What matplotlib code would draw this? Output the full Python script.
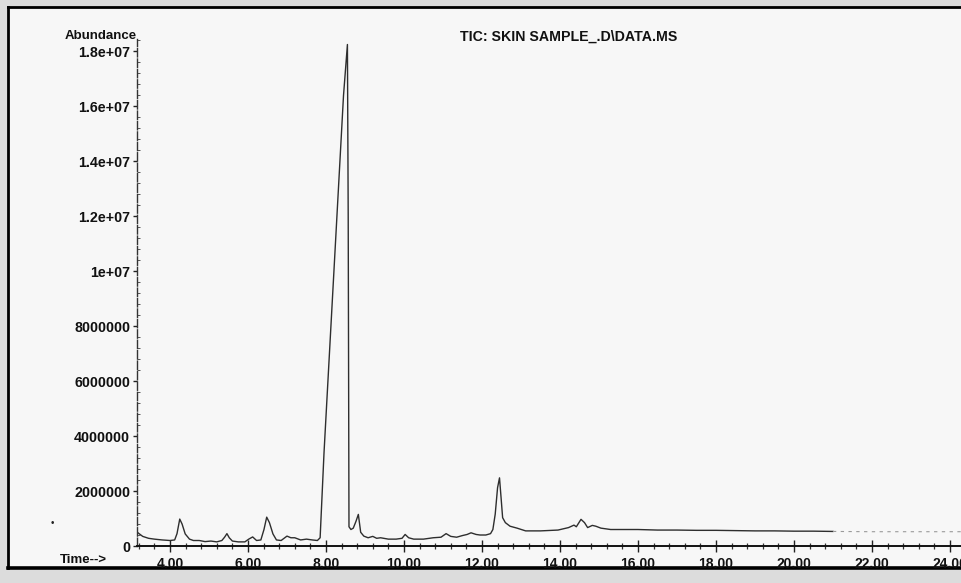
import matplotlib
matplotlib.use("Agg")
import matplotlib.pyplot as plt
from matplotlib.ticker import FixedLocator, MultipleLocator
from matplotlib.lines import Line2D
from matplotlib.patches import Rectangle

# ---- data (retention time in min, abundance in counts) ----
time_min = [3.16, 3.3, 3.45, 3.6, 3.8, 4.0, 4.12, 4.18, 4.25, 4.31, 4.39, 4.5, 4.6,
            4.75, 4.9, 5.05, 5.2, 5.33, 5.4, 5.46, 5.52, 5.6, 5.75, 5.92, 6.02,
            6.12, 6.22, 6.33, 6.41, 6.48, 6.55, 6.64, 6.73, 6.85, 7.0, 7.1, 7.2,
            7.35, 7.5, 7.65, 7.78, 7.85, 7.95, 8.05, 8.15, 8.25, 8.35, 8.45, 8.55,
            8.57, 8.59, 8.64, 8.7, 8.77, 8.83, 8.89, 8.97, 9.08, 9.2, 9.3, 9.4,
            9.6, 9.8, 9.95, 10.03, 10.12, 10.25, 10.5, 10.75, 10.95, 11.08, 11.2,
            11.35, 11.5, 11.62, 11.72, 11.85, 11.95, 12.1, 12.22, 12.28, 12.34,
            12.4, 12.45, 12.49, 12.53, 12.6, 12.72, 12.9, 13.12, 13.5, 13.95,
            14.22, 14.36, 14.42, 14.54, 14.63, 14.71, 14.83, 14.92, 15.05, 15.3,
            15.6, 16.0, 16.5, 17.0, 17.5, 18.0, 18.5, 19.0, 19.5, 20.0, 20.5, 21.0]
abundance_m = [0.5, 0.35, 0.28, 0.25, 0.22, 0.2, 0.22, 0.45, 0.98, 0.8, 0.44, 0.25, 0.2,
               0.2, 0.16, 0.18, 0.15, 0.2, 0.32, 0.45, 0.3, 0.18, 0.15, 0.15, 0.25,
               0.33, 0.2, 0.22, 0.6, 1.05, 0.85, 0.44, 0.22, 0.2, 0.36, 0.3, 0.3,
               0.22, 0.25, 0.22, 0.2, 0.3, 3.4, 6.0, 8.6, 11.2, 13.8, 16.4, 18.25,
               12.0, 0.7, 0.6, 0.65, 0.9, 1.15, 0.5, 0.36, 0.3, 0.35, 0.28, 0.3,
               0.25, 0.25, 0.28, 0.42, 0.3, 0.25, 0.25, 0.3, 0.32, 0.45, 0.35,
               0.32, 0.38, 0.42, 0.48, 0.42, 0.4, 0.4, 0.45, 0.6, 1.16,
               2.12, 2.48, 1.76, 1.03, 0.85, 0.72, 0.65, 0.55, 0.55, 0.58,
               0.67, 0.76, 0.7, 0.97, 0.85, 0.67, 0.75, 0.72, 0.65, 0.6,
               0.6, 0.6, 0.58, 0.58, 0.57, 0.57, 0.56, 0.55, 0.55, 0.54, 0.54, 0.53]
tail_time = [21.0, 22.0, 23.0, 24.3]
tail_abundance_m = [0.53, 0.52, 0.52, 0.52]

y_ticks = [0, 2000000, 4000000, 6000000, 8000000, 10000000, 12000000, 14000000,
           16000000, 18000000]
y_tick_labels = ["0", "2000000", "4000000", "6000000", "8000000", "1e+07",
                 "1.2e+07", "1.4e+07", "1.6e+07", "1.8e+07"]
x_ticks = [4, 6, 8, 10, 12, 14, 16, 18, 20, 22, 24]
x_tick_labels = ["4.00", "6.00", "8.00", "10.00", "12.00", "14.00", "16.00",
                 "18.00", "20.00", "22.00", "24.00"]
title = "TIC: SKIN SAMPLE_.D\\DATA.MS"

W, H = 962, 583
plt.rcParams['font.family'] = ['Liberation Sans', 'DejaVu Sans']
fig = plt.figure(figsize=(W / 100, H / 100), dpi=100, facecolor="#dcdcdc")

# paper background inside the scanned frame
fig.patches.append(Rectangle((8 / W, 1 - 567 / H), 1, (567 - 7) / H,
                             transform=fig.transFigure, facecolor="#f7f7f7",
                             edgecolor="none", zorder=-10))
# frame lines of the scan
fig.add_artist(Line2D([8 / W, 1], [1 - 7 / H, 1 - 7 / H], color="black", lw=2.0))
fig.add_artist(Line2D([8 / W, 8 / W], [1 - 7 / H, 1 - 568 / H], color="black", lw=2.0))
fig.add_artist(Line2D([8 / W, 1], [1 - 568 / H, 1 - 568 / H], color="black", lw=2.6))

ax_left, ax_bottom = 137 / W, 37 / H
ax = fig.add_axes([ax_left, ax_bottom, 1 - ax_left, (546 - 39) / H])
ax.set_facecolor("none")
ax.set_zorder(5)

ys = [v * 1e6 for v in abundance_m]
ax.plot(time_min, ys, color="#2e2e2e", lw=1.0, solid_joinstyle="round")
ax.plot(tail_time, [v * 1e6 for v in tail_abundance_m], color="#9a9a9a",
        lw=0.8, ls=(0, (3, 4)))

ax.set_xlim(3.154, 24.31)
ax.set_ylim(0, 18.45e6)

for s in ("top", "right"):
    ax.spines[s].set_visible(False)
ax.spines["left"].set_color("#333333")
ax.spines["left"].set_linewidth(1.0)
ax.spines["left"].set_linestyle((0, (6, 1.5)))
ax.spines["bottom"].set_color("#111111")
ax.spines["bottom"].set_linewidth(1.4)

ax.xaxis.set_major_locator(FixedLocator(x_ticks))
ax.set_xticklabels(x_tick_labels)
ax.xaxis.set_minor_locator(MultipleLocator(0.4))
ax.yaxis.set_major_locator(FixedLocator(y_ticks))
ax.set_yticklabels(y_tick_labels)
ax.yaxis.set_minor_locator(MultipleLocator(400000))

ax.tick_params(axis="x", which="major", direction="inout", length=8, width=1.0,
               pad=4, labelsize=10, color="#222222")
ax.tick_params(axis="x", which="minor", direction="inout", length=4, width=0.9,
               color="#333333")
ax.tick_params(axis="y", which="major", direction="out", length=3, width=1.0,
               pad=2, labelsize=10.3, color="#222222")
ax.tick_params(axis="y", which="minor", direction="in", length=2, width=0.7,
               color="#555555")
for lab in ax.get_xticklabels() + ax.get_yticklabels():
    lab.set_fontweight("bold")
    lab.set_color("#111111")

fig.text(137 / W, 1 - 36 / H, "Abundance", ha="right", va="center",
         fontsize=9.5, fontweight="bold", color="#111111")
fig.text(460 / W, 1 - 37 / H, title, ha="left", va="center",
         fontsize=10.2, fontweight="bold", color="#111111")
fig.text(60 / W, 1 - 560 / H, "Time-->", ha="left", va="center",
         fontsize=9.5, fontweight="bold", color="#111111")
fig.text(52 / W, 1 - 523 / H, "\u2022", ha="center", va="center",
         fontsize=7, color="#222222")

fig.savefig("out.png", dpi=100, facecolor=fig.get_facecolor())
